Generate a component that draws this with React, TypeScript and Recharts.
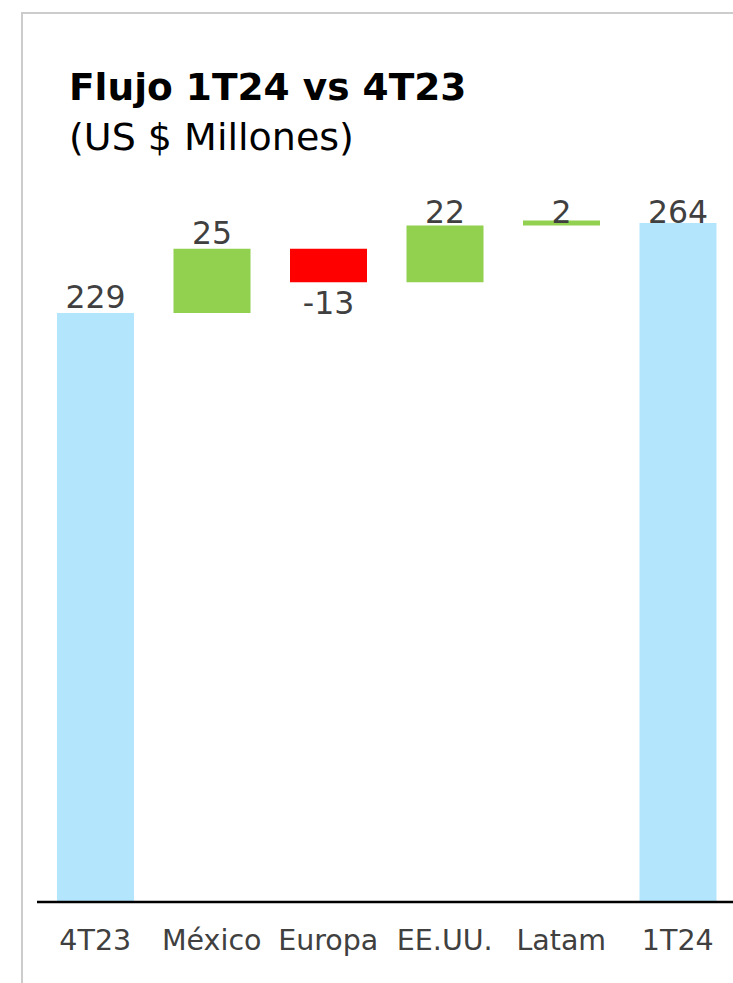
import React from 'react';
import { BarChart, Bar, XAxis, YAxis, Cell, LabelList } from 'recharts';

const categories = ['4T23', 'México', 'Europa', 'EE.UU.', 'Latam', '1T24'];
const values = [229, 25, -13, 22, 2, 264];
const isTotal = [true, false, false, false, false, true];

const BLUE = '#B3E5FC';
const GREEN = '#92D050';
const RED = '#FF0000';

const buildData = () => {
  let running = 0;
  return categories.map((name, i) => {
    const v = values[i];
    let base = 0;
    let size = v;
    if (isTotal[i]) {
      running = v;
    } else if (v >= 0) {
      base = running;
      running += v;
    } else {
      running += v;
      base = running;
      size = -v;
    }
    return {
      name,
      base,
      size,
      label: v,
      color: isTotal[i] ? BLUE : v >= 0 ? GREEN : RED,
    };
  });
};

const data = buildData();

const FONT = '"DejaVu Sans", Verdana, sans-serif';

const renderLabel = (props: any) => {
  const { x, y, width, height, value } = props;
  const cx = Number(x) + Number(width) / 2;
  const top = Number(y);
  const bottom = Number(y) + Number(height);
  const neg = Number(value) < 0;
  const ty = neg ? bottom + 32 : Math.max(top - 5, 223);
  return (
    <text
      x={cx}
      y={ty}
      textAnchor="middle"
      fill="#404040"
      fontSize={31.5}
      fontFamily={FONT}
    >
      {value}
    </text>
  );
};

const renderTick = (props: any) => {
  const { x, y, payload } = props;
  return (
    <text
      x={x}
      y={Number(y) + 48}
      textAnchor="middle"
      fill="#404040"
      fontSize={28.5}
      fontFamily={FONT}
    >
      {payload.value}
    </text>
  );
};

export default function App() {
  return (
    <div
      style={{
        position: 'fixed',
        left: 0,
        top: 0,
        width: 733,
        height: 983,
        background: '#fff',
        overflow: 'hidden',
        fontFamily: FONT,
      }}
    >
      <div
        style={{
          position: 'absolute',
          left: 21,
          top: 12,
          width: 740,
          height: 969,
          borderLeft: '2px solid #cccccc',
          borderTop: '2px solid #cccccc',
        }}
      />
      <div
        style={{
          position: 'absolute',
          left: 69,
          top: 69,
          fontSize: 37.5,
          lineHeight: 1,
          fontWeight: 'bold',
          color: '#000',
          whiteSpace: 'nowrap',
        }}
      >
        Flujo 1T24 vs 4T23
      </div>
      <div
        style={{
          position: 'absolute',
          left: 69,
          top: 118,
          fontSize: 38,
          lineHeight: 1,
          color: '#000',
          whiteSpace: 'nowrap',
        }}
      >
        (US $ Millones)
      </div>
      <div style={{ position: 'absolute', left: 0, top: 0 }}>
        <BarChart
          width={736}
          height={983}
          data={data}
          margin={{ top: 130.4, right: 0, left: 37, bottom: 31 }}
        >
          <YAxis hide domain={[0, 300]} />
          <XAxis
            dataKey="name"
            height={50}
            tickLine={false}
            tickSize={0}
            tickMargin={0}
            axisLine={{ stroke: '#000', strokeWidth: 2.5 }}
            tick={renderTick}
            interval={0}
          />
          <Bar dataKey="base" stackId="w" fill="transparent" isAnimationActive={false} barSize={77} />
          <Bar dataKey="size" stackId="w" isAnimationActive={false} barSize={77}>
            {data.map((d, i) => (
              <Cell key={i} fill={d.color} />
            ))}
            <LabelList dataKey="label" content={renderLabel} />
          </Bar>
        </BarChart>
      </div>
    </div>
  );
}
